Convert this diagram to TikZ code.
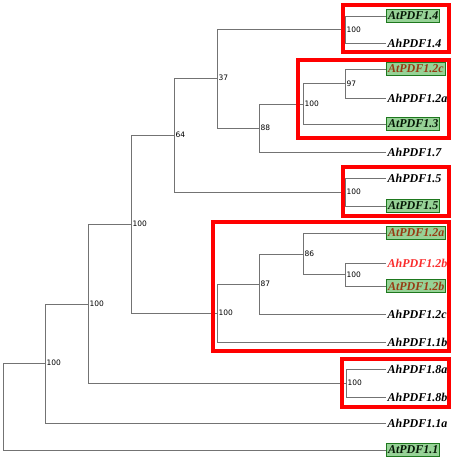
\documentclass[tikz,border=0pt]{standalone}
\usepackage{fontspec}
\setmainfont{Liberation Serif}
\newfontfamily\numfont{DejaVu Sans}
\usetikzlibrary{positioning}
\definecolor{branch}{RGB}{115,115,115}
\definecolor{leafgreen}{RGB}{150,210,150}
\definecolor{leafedge}{RGB}{30,120,30}
\definecolor{rust}{RGB}{150,60,20}
\definecolor{hired}{RGB}{250,45,45}

\begin{document}
\begin{tikzpicture}[x=1pt, y=-1pt,
  leaf/.style={anchor=west, inner xsep=1.5pt, inner ysep=2pt, font=\fontsize{12}{14}\selectfont\bfseries\itshape},
  atleaf/.style={leaf, draw=leafedge, line width=1pt, fill=leafgreen, text=black!80!leafedge},
  boot/.style={anchor=west, inner sep=1.5pt, font=\numfont\fontsize{7.5}{8}\selectfont},
  edge/.style={draw=branch, line width=0.8pt},
  clade/.style={draw=red, line width=4pt}]
  \useasboundingbox (0,0) rectangle (454,461);

  % leaves
  \node[atleaf] (at14) at (386,16) {AtPDF1.4};
  \node[leaf] (ah14) at (386,43) {AhPDF1.4};
  \node[atleaf, text=rust] (at12c) at (386,69) {AtPDF1.2c};
  \node[leaf] (ah12a) at (386,98) {AhPDF1.2a};
  \node[atleaf] (at13) at (386,124) {AtPDF1.3};
  \node[leaf] (ah17) at (386,152) {AhPDF1.7};
  \node[leaf] (ah15) at (386,178) {AhPDF1.5};
  \node[atleaf] (at15) at (386,206) {AtPDF1.5};
  \node[atleaf, text=rust] (at12a) at (386,233) {AtPDF1.2a};
  \node[leaf, text=hired] (ah12b) at (386,263) {AhPDF1.2b};
  \node[atleaf, text=rust] (at12b) at (386,286) {AtPDF1.2b};
  \node[leaf] (ah12c) at (386,314) {AhPDF1.2c};
  \node[leaf] (ah11b) at (386,342) {AhPDF1.1b};
  \node[leaf] (ah18a) at (386,369) {AhPDF1.8a};
  \node[leaf] (ah18b) at (386,397) {AhPDF1.8b};
  \node[leaf] (ah11a) at (386,423) {AhPDF1.1a};
  \node[atleaf] (at11) at (386,450) {AtPDF1.1};

  % inner nodes with bootstrap values
  \coordinate (n14) at (345,29.5);  \node[boot] (b14) at (n14) {100};
  \coordinate (n97) at (345,83.5);  \node[boot] (b97) at (n97) {97};
  \coordinate (n13) at (303,104);   \node[boot] (b13) at (n13) {100};
  \coordinate (n88) at (259,128);   \node[boot] (b88) at (n88) {88};
  \coordinate (n37) at (217,78);    \node[boot] (b37) at (n37) {37};
  \coordinate (n15) at (345,192);   \node[boot] (b15) at (n15) {100};
  \coordinate (n64) at (174,135);   \node[boot] (b64) at (n64) {64};
  \coordinate (n12b) at (345,274.5);\node[boot] (b12b) at (n12b) {100};
  \coordinate (n86) at (303,254);   \node[boot] (b86) at (n86) {86};
  \coordinate (n87) at (259,284);   \node[boot] (b87) at (n87) {87};
  \coordinate (n11b) at (217,313);  \node[boot] (b11b) at (n11b) {100};
  \coordinate (n224) at (131,224);  \node[boot] (b224) at (n224) {100};
  \coordinate (n18) at (346,383);   \node[boot] (b18) at (n18) {100};
  \coordinate (n304) at (88,304);   \node[boot] (b304) at (n304) {100};
  \coordinate (n363) at (45,363);   \node[boot] (b363) at (n363) {100};
  \coordinate (root) at (3,406.5);

  % branches
  \path[edge] (n14) |- (at14.west) (n14) |- (ah14.west);
  \path[edge] (n97) |- (at12c.west) (n97) |- (ah12a.west);
  \path[edge] (n13) |- (n97) (n13) |- (at13.west);
  \path[edge] (n88) |- (n13) (n88) |- (ah17.west);
  \path[edge] (n37) |- (n14) (n37) |- (n88);
  \path[edge] (n15) |- (ah15.west) (n15) |- (at15.west);
  \path[edge] (n64) |- (n37) (n64) |- (n15);
  \path[edge] (n12b) |- (ah12b.west) (n12b) |- (at12b.west);
  \path[edge] (n86) |- (at12a.west) (n86) |- (n12b);
  \path[edge] (n87) |- (n86) (n87) |- (ah12c.west);
  \path[edge] (n11b) |- (n87) (n11b) |- (ah11b.west);
  \path[edge] (n224) |- (n64) (n224) |- (n11b);
  \path[edge] (n18) |- (ah18a.west) (n18) |- (ah18b.west);
  \path[edge] (n304) |- (n224) (n304) |- (n18);
  \path[edge] (n363) |- (n304) (n363) |- (ah11a.west);
  \path[edge] (root) |- (n363) (root) |- (at11.west);

  % clades
  \draw[clade] (342.7,4.7) rectangle (448.7,52);
  \draw[clade] (298,59.7) rectangle (448.7,138);
  \draw[clade] (342.7,167) rectangle (448.7,216.3);
  \draw[clade] (212.7,222) rectangle (448.7,350.7);
  \draw[clade] (342,359.3) rectangle (448.7,407.3);
\end{tikzpicture}
\end{document}
